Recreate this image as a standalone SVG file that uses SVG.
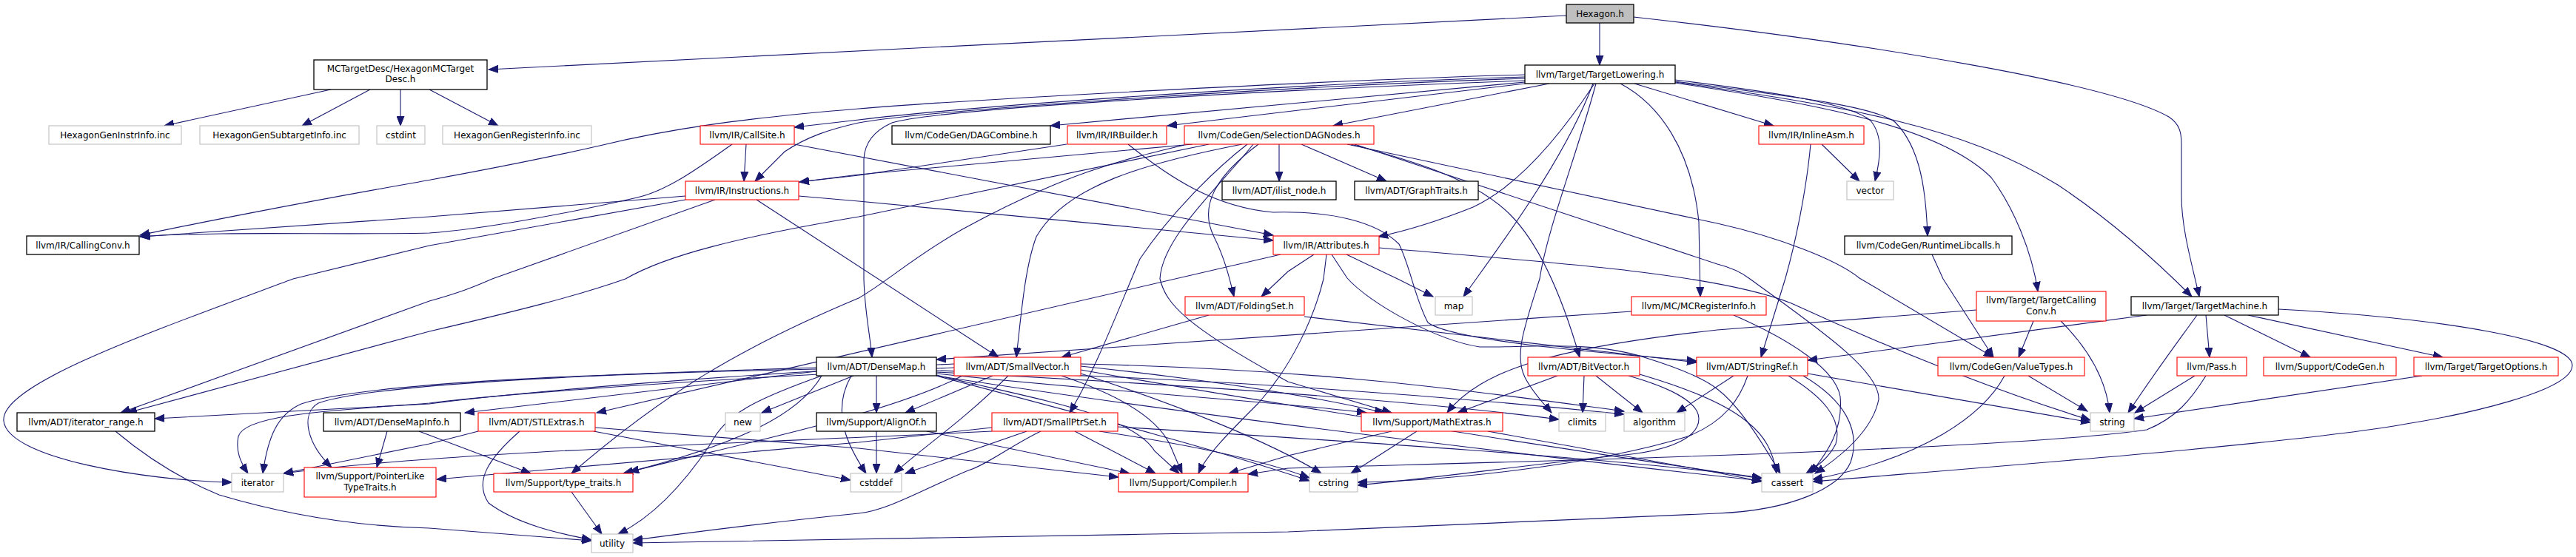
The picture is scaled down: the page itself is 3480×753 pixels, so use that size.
<svg xmlns="http://www.w3.org/2000/svg" width="3480" height="753" viewBox="0 0 3480 753">
<style>
rect{fill:#fff;stroke-width:1.1}
.k rect{stroke:#000;stroke-width:1.3}
.r rect{stroke:#ff0000}
.g rect{stroke:#bfbfbf}
.h rect{fill:#bfbfbf;stroke:#000;stroke-width:1.3}
text{font-family:"DejaVu Sans","Liberation Sans",sans-serif;font-size:12px;text-anchor:middle;fill:#000}
#edges path{fill:none;stroke:#191970;stroke-width:1.1;marker-end:url(#a)}
</style>
<defs>
<marker id="a" markerWidth="14" markerHeight="11" refX="13" refY="5.5" orient="auto" markerUnits="userSpaceOnUse"><path d="M0,0.5 L13,5.5 L0,10.5 z" fill="#191970" stroke="#191970"/></marker>
</defs>
<rect x="0" y="0" width="3480" height="753" style="fill:#fff;stroke:none"/>
<g id="edges">
<path d="M2116,21 L660,94"/>
<path d="M2161,31 L2161,88"/>
<path d="M2207,23 C2520,58 2850,112 2930,158 C2945,168 2947,180 2947,195 L2947,265 C2947,310 2962,360 2971,401"/>
<path d="M447,121 L222,170"/>
<path d="M500,121 L408,170"/>
<path d="M541,121 L541,170"/>
<path d="M580,121 L673,170"/>
<path d="M2060,101 C1800,108 1300,135 1160,147 C1000,160 900,175 810,197 C700,222 620,236 560,247 C400,275 250,305 189,318"/>
<path d="M2060,104 C1700,115 1300,145 1160,162 L1073,172"/>
<path d="M2060,106 C1700,118 1250,150 1160,166 C1120,175 1090,185 1060,205 L1020,245"/>
<path d="M2060,109 C1700,122 1260,148 1205,166 C1178,178 1168,195 1167,215 L1167,377 C1168,420 1175,450 1178,483"/>
<path d="M2060,111 L1419,170"/>
<path d="M2060,113 L1577,170"/>
<path d="M2093,113 L1801,170"/>
<path d="M2154,113 C2110,180 2054,250 1990,280 C1940,300 1900,312 1862,320"/>
<path d="M2208,113 L2396,170"/>
<path d="M2263,108 C2400,125 2500,140 2527,163 C2545,185 2540,215 2533,245"/>
<path d="M2263,110 C2400,128 2530,142 2560,165 C2595,200 2602,260 2604,319"/>
<path d="M2263,112 C2450,140 2620,170 2690,240 C2720,280 2745,340 2753,394"/>
<path d="M2263,111 C2500,145 2650,170 2780,250 C2840,290 2900,340 2961,401"/>
<path d="M2189,113 C2240,140 2285,200 2295,300 L2297,401"/>
<path d="M2152,113 C2120,200 2050,300 1995,376 L1977,401"/>
<path d="M2156,113 C2130,210 2090,310 2080,377 C2060,440 2045,480 2060,510 C2070,530 2085,545 2096,558"/>
<path d="M1008,195 L1005,245"/>
<path d="M989,195 C940,230 900,258 861,267 C760,290 650,310 580,315 C450,318 300,312 189,320"/>
<path d="M1073,195 L1720,318"/>
<path d="M1441,195 L1160,237 L1080,246"/>
<path d="M1524,195 C1580,240 1640,280 1720,287 C1800,285 1860,300 1890,330 C1905,360 1912,405 1929,436 C1960,460 2150,476 2292,488"/>
<path d="M1611,195 L1160,236 L1080,246"/>
<path d="M1633,195 L1160,293 C1000,320 900,345 845,377 C780,400 700,420 580,448 L172,558"/>
<path d="M1600,196 C1520,215 1441,233 1300,310 C1230,350 1200,380 1160,403 C1000,470 900,530 772,640"/>
<path d="M1678,195 C1550,220 1440,250 1400,320 C1385,360 1380,420 1373,483"/>
<path d="M1685,195 C1640,230 1580,290 1540,350 C1510,420 1480,500 1445,558"/>
<path d="M1693,195 C1650,250 1570,320 1567,377 C1575,410 1600,440 1740,516 L1880,558"/>
<path d="M1700,195 C1640,240 1620,280 1640,320 C1655,350 1662,380 1667,401"/>
<path d="M1728,195 L1728,245"/>
<path d="M1758,195 L1873,245"/>
<path d="M1825,195 C1900,215 1990,240 2040,290 C2080,330 2110,400 2134,483"/>
<path d="M1820,195 L2320,302 C2400,320 2480,350 2512,376 L2693,483"/>
<path d="M1830,195 L2320,357 C2340,362 2355,370 2364,377 C2450,440 2540,500 2538,540 C2530,580 2490,615 2452,640"/>
<path d="M926,265 L580,293 L190,320"/>
<path d="M926,270 L580,332 L396,377 C200,450 0,520 5,569 C10,620 200,650 313,652"/>
<path d="M966,270 L665,377 C640,388 620,396 580,407 L163,558"/>
<path d="M1079,265 L1160,272 L1720,325"/>
<path d="M1022,270 L1349,483"/>
<path d="M1819,344 L1888,377 L1936,401"/>
<path d="M1775,344 L1740,367 L1704,401"/>
<path d="M1792,344 L1788,377 C1775,430 1745,495 1700,545 C1660,585 1630,615 1619,640"/>
<path d="M1863,335 C2100,355 2320,370 2420,410 C2550,470 2700,530 2824,568"/>
<path d="M1730,344 L806,558"/>
<path d="M1799,344 L1820,376 C1850,410 1940,460 1999,469 C2060,470 2150,460 2221,483 C2260,495 2300,510 2320,526 C2345,545 2370,580 2405,640"/>
<path d="M1633,426 L1434,483"/>
<path d="M1762,428 L2292,490"/>
<path d="M2204,421 L1265,486"/>
<path d="M2342,426 C2420,460 2480,500 2486,536 C2490,580 2470,610 2446,640"/>
<path d="M2446,195 C2440,260 2425,330 2412,376 L2379,483"/>
<path d="M2461,195 L2512,245"/>
<path d="M2610,344 L2625,377 L2693,483"/>
<path d="M2747,434 L2727,483"/>
<path d="M2784,434 C2820,470 2845,510 2850,558"/>
<path d="M2670,419 L2320,446 C2100,470 2000,500 1955,558"/>
<path d="M2740,508 L2820,556"/>
<path d="M2708,508 C2680,560 2600,620 2449,648"/>
<path d="M2900,426 L2442,487"/>
<path d="M2980,426 L2985,483"/>
<path d="M3005,426 L3121,483"/>
<path d="M3037,426 L3300,483"/>
<path d="M2968,426 C2940,465 2910,505 2875,558"/>
<path d="M3078,418 C3300,430 3475,460 3475,494 C3475,530 3320,562 3251,573 C3100,600 2700,630 2449,651"/>
<path d="M2965,508 L2884,558"/>
<path d="M2980,508 C2960,540 2940,565 2900,581 C2700,610 2000,625 1740,633 L1686,641"/>
<path d="M3272,508 L2883,566"/>
<path d="M2442,505 L2824,571"/>
<path d="M2342,508 L2265,558"/>
<path d="M2416,508 C2460,535 2490,565 2480,600 C2470,620 2455,630 2440,640"/>
<path d="M2361,508 C2350,540 2330,570 2280,590 C2150,630 1950,650 1834,652"/>
<path d="M2436,508 C2490,540 2515,580 2500,625 C2485,660 2420,690 2320,694 L1740,719 C1400,725 1000,730 855,734"/>
<path d="M2104,508 L1969,558"/>
<path d="M2140,508 L2138,558"/>
<path d="M2156,508 L2219,558"/>
<path d="M2215,506 C2280,525 2330,545 2360,570 C2385,590 2395,610 2400,640"/>
<path d="M2200,508 C2260,525 2295,545 2295,566 C2295,590 2260,610 2184,616 C2050,630 1950,645 1834,656"/>
<path d="M1103,502 L628,558"/>
<path d="M1184,508 L1184,558"/>
<path d="M1153,508 L1029,558"/>
<path d="M1110,508 C1020,540 980,560 960,600 C920,660 880,700 835,722"/>
<path d="M1103,497 C850,505 500,515 407,546 C375,560 362,590 355,640"/>
<path d="M1103,499 C800,505 500,520 430,545 C405,560 415,600 448,632"/>
<path d="M1110,508 C1080,560 1000,600 842,640"/>
<path d="M1265,507 C1400,540 1530,560 1560,610 L1593,640"/>
<path d="M1265,505 C1500,530 1750,545 1846,558"/>
<path d="M1265,503 C1600,520 1900,540 2106,567"/>
<path d="M1265,501 C1600,510 1900,530 2194,560"/>
<path d="M1265,508 C1600,560 2100,620 2380,650"/>
<path d="M1265,508 C1500,570 1650,610 1769,650"/>
<path d="M1150,508 C1120,560 1150,610 1170,640"/>
<path d="M1289,492 C1000,505 700,530 580,546 L209,566"/>
<path d="M1341,508 L1223,558"/>
<path d="M1362,508 C1300,570 1240,610 1208,640"/>
<path d="M1434,508 C1500,530 1560,560 1580,600 L1597,640"/>
<path d="M1460,495 C1600,510 1750,530 1870,558"/>
<path d="M1300,508 C1200,560 1000,600 850,638"/>
<path d="M1460,492 C1800,500 2000,530 2194,556"/>
<path d="M1460,500 C1800,560 2200,620 2380,647"/>
<path d="M1460,505 C1600,550 1720,600 1785,640"/>
<path d="M1289,497 C1000,510 700,530 580,545 C450,555 330,560 322,590 C318,610 325,625 335,640"/>
<path d="M1452,583 L1561,640"/>
<path d="M1387,583 L1223,640"/>
<path d="M1340,578 L1160,598 L590,648"/>
<path d="M1510,577 C1800,595 2200,620 2380,646"/>
<path d="M1485,583 C1600,600 1700,620 1769,646"/>
<path d="M1406,583 C1370,600 1330,630 1308,636 C1250,660 1200,690 1160,694 C1000,710 900,725 855,730"/>
<path d="M1340,583 C1000,600 600,610 383,640"/>
<path d="M804,578 L1160,606 L1511,645"/>
<path d="M702,583 C660,620 640,650 660,680 C700,710 760,722 799,730"/>
<path d="M802,583 L1149,649"/>
<path d="M646,583 L580,600 L383,640"/>
<path d="M523,583 L509,632"/>
<path d="M566,583 L717,640"/>
<path d="M1184,583 L1184,640"/>
<path d="M1252,583 L1526,640"/>
<path d="M1880,583 L1740,616 L1660,640"/>
<path d="M1914,583 L1825,640"/>
<path d="M2010,583 L2320,639 L2380,651"/>
<path d="M772,665 L813,722"/>
<path d="M156,583 C200,620 250,650 296,669 C400,700 500,712 580,714 L799,731"/>
</g>
<g id="n_hex" class="h"><rect x="2116" y="6" width="91" height="25"/><text x="2161.5" y="23">Hexagon.h</text></g>
<g id="n_mctd" class="k"><rect x="424" y="81" width="234" height="40"/><text x="541" y="97">MCTargetDesc/HexagonMCTarget</text><text x="541" y="111">Desc.h</text></g>
<g id="n_tl" class="k"><rect x="2060" y="88" width="203" height="25"/><text x="2161.5" y="105">llvm/Target/TargetLowering.h</text></g>
<g id="n_instrinc" class="g"><rect x="66" y="170" width="179" height="25"/><text x="155.5" y="187">HexagonGenInstrInfo.inc</text></g>
<g id="n_subinc" class="g"><rect x="270" y="170" width="215" height="25"/><text x="377.5" y="187">HexagonGenSubtargetInfo.inc</text></g>
<g id="n_cstdint" class="g"><rect x="509" y="170" width="65" height="25"/><text x="541.5" y="187">cstdint</text></g>
<g id="n_reginc" class="g"><rect x="598" y="170" width="201" height="25"/><text x="698.5" y="187">HexagonGenRegisterInfo.inc</text></g>
<g id="n_callsite" class="r"><rect x="946" y="170" width="127" height="25"/><text x="1009.5" y="187">llvm/IR/CallSite.h</text></g>
<g id="n_dagcomb" class="k"><rect x="1205" y="170" width="214" height="25"/><text x="1312" y="187">llvm/CodeGen/DAGCombine.h</text></g>
<g id="n_irbuilder" class="r"><rect x="1442" y="170" width="134" height="25"/><text x="1509" y="187">llvm/IR/IRBuilder.h</text></g>
<g id="n_sdn" class="r"><rect x="1600" y="170" width="256" height="25"/><text x="1728" y="187">llvm/CodeGen/SelectionDAGNodes.h</text></g>
<g id="n_inlineasm" class="r"><rect x="2376" y="170" width="142" height="25"/><text x="2447" y="187">llvm/IR/InlineAsm.h</text></g>
<g id="n_instructions" class="r"><rect x="926" y="245" width="153" height="25"/><text x="1002.5" y="262">llvm/IR/Instructions.h</text></g>
<g id="n_ilist" class="k"><rect x="1651" y="245" width="154" height="25"/><text x="1728" y="262">llvm/ADT/ilist_node.h</text></g>
<g id="n_graphtraits" class="k"><rect x="1830" y="245" width="167" height="25"/><text x="1913.5" y="262">llvm/ADT/GraphTraits.h</text></g>
<g id="n_vector" class="g"><rect x="2495" y="245" width="63" height="25"/><text x="2526.5" y="262">vector</text></g>
<g id="n_callingconv" class="k"><rect x="36" y="319" width="152" height="25"/><text x="112" y="336">llvm/IR/CallingConv.h</text></g>
<g id="n_attributes" class="r"><rect x="1720" y="319" width="143" height="25"/><text x="1791.5" y="336">llvm/IR/Attributes.h</text></g>
<g id="n_runtimelib" class="k"><rect x="2492" y="319" width="226" height="25"/><text x="2605" y="336">llvm/CodeGen/RuntimeLibcalls.h</text></g>
<g id="n_foldingset" class="r"><rect x="1601" y="401" width="161" height="25"/><text x="1681.5" y="418">llvm/ADT/FoldingSet.h</text></g>
<g id="n_map" class="g"><rect x="1939" y="401" width="50" height="25"/><text x="1964" y="418">map</text></g>
<g id="n_mcreg" class="r"><rect x="2204" y="401" width="182" height="25"/><text x="2295" y="418">llvm/MC/MCRegisterInfo.h</text></g>
<g id="n_tcc" class="r"><rect x="2670" y="394" width="175" height="40"/><text x="2757.5" y="410">llvm/Target/TargetCalling</text><text x="2757.5" y="425">Conv.h</text></g>
<g id="n_tm" class="k"><rect x="2879" y="401" width="199" height="25"/><text x="2978.5" y="418">llvm/Target/TargetMachine.h</text></g>
<g id="n_densemap" class="k"><rect x="1103" y="483" width="162" height="25"/><text x="1184" y="500">llvm/ADT/DenseMap.h</text></g>
<g id="n_smallvector" class="r"><rect x="1289" y="483" width="171" height="25"/><text x="1374.5" y="500">llvm/ADT/SmallVector.h</text></g>
<g id="n_bitvector" class="r"><rect x="2064" y="483" width="151" height="25"/><text x="2139.5" y="500">llvm/ADT/BitVector.h</text></g>
<g id="n_stringref" class="r"><rect x="2292" y="483" width="150" height="25"/><text x="2367" y="500">llvm/ADT/StringRef.h</text></g>
<g id="n_valuetypes" class="r"><rect x="2618" y="483" width="198" height="25"/><text x="2717" y="500">llvm/CodeGen/ValueTypes.h</text></g>
<g id="n_pass" class="r"><rect x="2941" y="483" width="94" height="25"/><text x="2988" y="500">llvm/Pass.h</text></g>
<g id="n_cg" class="r"><rect x="3058" y="483" width="179" height="25"/><text x="3147.5" y="500">llvm/Support/CodeGen.h</text></g>
<g id="n_topt" class="r"><rect x="3261" y="483" width="195" height="25"/><text x="3358.5" y="500">llvm/Target/TargetOptions.h</text></g>
<g id="n_itrange" class="k"><rect x="23" y="558" width="186" height="25"/><text x="116" y="575">llvm/ADT/iterator_range.h</text></g>
<g id="n_dmi" class="k"><rect x="437" y="558" width="185" height="25"/><text x="529.5" y="575">llvm/ADT/DenseMapInfo.h</text></g>
<g id="n_stlextras" class="r"><rect x="646" y="558" width="158" height="25"/><text x="725" y="575">llvm/ADT/STLExtras.h</text></g>
<g id="n_new" class="g"><rect x="980" y="558" width="47" height="25"/><text x="1003.5" y="575">new</text></g>
<g id="n_alignof" class="k"><rect x="1103" y="558" width="162" height="25"/><text x="1184" y="575">llvm/Support/AlignOf.h</text></g>
<g id="n_smallptrset" class="r"><rect x="1340" y="558" width="170" height="25"/><text x="1425" y="575">llvm/ADT/SmallPtrSet.h</text></g>
<g id="n_mathextras" class="r"><rect x="1839" y="558" width="191" height="25"/><text x="1934.5" y="575">llvm/Support/MathExtras.h</text></g>
<g id="n_climits" class="g"><rect x="2106" y="558" width="63" height="25"/><text x="2137.5" y="575">climits</text></g>
<g id="n_algorithm" class="g"><rect x="2194" y="558" width="82" height="25"/><text x="2235" y="575">algorithm</text></g>
<g id="n_string" class="g"><rect x="2824" y="558" width="59" height="25"/><text x="2853.5" y="575">string</text></g>
<g id="n_iterator" class="g"><rect x="313" y="640" width="70" height="25"/><text x="348" y="657">iterator</text></g>
<g id="n_pltt" class="r"><rect x="411" y="632" width="178" height="40"/><text x="500" y="648">llvm/Support/PointerLike</text><text x="500" y="663">TypeTraits.h</text></g>
<g id="n_typetraits" class="r"><rect x="667" y="640" width="188" height="25"/><text x="761" y="657">llvm/Support/type_traits.h</text></g>
<g id="n_cstddef" class="g"><rect x="1149" y="640" width="69" height="25"/><text x="1183.5" y="657">cstddef</text></g>
<g id="n_compiler" class="r"><rect x="1511" y="640" width="175" height="25"/><text x="1598.5" y="657">llvm/Support/Compiler.h</text></g>
<g id="n_cstring" class="g"><rect x="1769" y="640" width="65" height="25"/><text x="1801.5" y="657">cstring</text></g>
<g id="n_cassert" class="g"><rect x="2380" y="640" width="69" height="25"/><text x="2414.5" y="657">cassert</text></g>
<g id="n_utility" class="g"><rect x="799" y="722" width="56" height="25"/><text x="827" y="739">utility</text></g>
</svg>
